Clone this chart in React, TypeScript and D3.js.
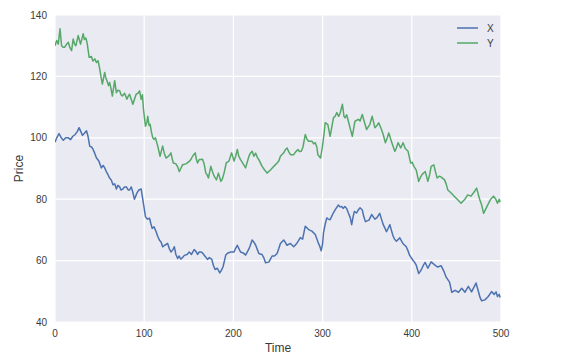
import { useMemo } from "react";
import * as d3 from "d3";

const W = 573;
const H = 354;
const MARGIN = { top: 15, right: 72, bottom: 32, left: 55 };

// X series (time, price)
const X_TIME = [
  0, 2, 4.5, 7, 9.3, 12, 14.9, 17.5, 20, 22.3, 25, 27, 29, 30.8, 33, 35.3, 37, 39, 41, 42.7, 44.5, 46.5, 49, 52, 54,
  55.7, 57.5, 59.4, 61, 63, 65, 67, 68.8, 70.5, 72.5, 74, 76, 78, 80, 82, 83.6, 85.5, 87, 89, 90.5, 91.8, 94, 96.6,
  98.5, 100, 101.4, 103.5, 106, 107.5, 108.9, 111, 113.4, 115, 117, 119, 120.7, 123, 126.3, 128, 130, 132, 133.8,
  135.5, 137.5, 139, 141, 143, 145, 148, 150.5, 153, 156, 158, 159.8, 161.7, 163.5, 165.4, 168, 171, 173, 175.8,
  177.5, 179.5, 182, 184.7, 186.5, 188.4, 190, 191.4, 194, 197, 200.7, 202.5, 204.4, 206, 208, 211, 213.7, 217.4,
  219, 221, 223, 225, 227, 228.5, 232, 234, 236, 239.7, 241.5, 243.4, 246, 249, 251, 252.7, 256.4, 258, 260, 263.9,
  267.6, 271, 273, 275, 277.6, 279, 280.6, 284.3, 288, 291.8, 295.4, 297, 298.4, 300, 301, 303, 304.7, 306.5, 308.4,
  310.3, 312, 314, 317.7, 319.5, 321.4, 323, 325, 327, 328.9, 331, 332.6, 334, 335.6, 338, 340, 342, 344.5, 346, 348,
  352, 355, 358.6, 361, 364, 366, 368, 370, 371.6, 373.5, 375.4, 377, 379, 380.7, 382.7, 386.5, 390, 393.8, 396,
  397.6, 401.3, 403, 405, 407.7, 409.5, 411.4, 413, 415, 418, 421.7, 424, 426, 429, 433, 436, 438.5, 442.3, 444.8,
  448.5, 452.3, 456, 459.6, 463.4, 467, 470, 472, 474.6, 476.5, 478.3, 482, 485.7, 489.4, 492.4, 494.5, 496, 498, 499,
];
const X_PRICE = [
  98.6, 100, 101.4, 100, 99.2, 100, 100, 99.4, 100.5, 101, 102, 103.3, 102, 100.8, 101.5, 102.3, 100.5, 97.2, 97,
  96.2, 95, 93.4, 92.5, 90.2, 91, 90.2, 89, 88, 87, 86.3, 84.7, 85, 83.3, 84.5, 84, 83, 83.3, 84, 84, 83, 83, 84, 82.5,
  80, 81, 82, 83, 83.3, 79.8, 77, 74.3, 73.5, 73.8, 72, 70.5, 71, 69.4, 68, 66.7, 66, 64.5, 65, 65.6, 64, 62.8, 63.5,
  64.5, 62, 60.7, 61.5, 60.5, 61, 61.7, 62, 62.8, 62, 63.6, 63, 62, 62.8, 62.8, 62.5, 61.5, 60.4, 61, 60.4, 58.5, 57.1,
  57.5, 56, 56.8, 58, 60, 61.8, 62.5, 62.8, 62.8, 64, 65, 64, 62.8, 62.5, 61.8, 63.8, 65, 66.7, 66, 65, 63.5, 62.3, 62,
  61, 59.3, 59.5, 60.5, 61.5, 61.5, 62.3, 64, 65.6, 66.7, 66, 65, 65.6, 64.5, 65.6, 66.5, 67.5, 67, 69, 71.2, 70.1,
  69.6, 68.5, 65.6, 64.5, 63.2, 65.5, 69, 72, 73.9, 73.5, 73.3, 74.5, 75.5, 76.5, 78.1, 77.5, 77.6, 77, 77.6, 77, 75.5,
  74, 71.7, 74, 76, 75.5, 76.5, 77.2, 76.5, 74.5, 72.7, 73.2, 75, 73.5, 74, 75.4, 73.5, 71.7, 70.5, 69.4, 70.5, 71.7,
  70, 68, 67, 66.3, 67.4, 65.6, 64.5, 63, 61.7, 60.1, 59.5, 58.5, 55.8, 56.5, 57.5, 58.5, 59.4, 57.5, 59.6, 59, 58.5,
  57.9, 58.3, 56.5, 54.6, 53, 49.7, 50.3, 49.7, 51, 49.7, 51.6, 49.8, 51.5, 52.7, 50, 48, 46.9, 47.2, 48.3, 49.9, 49,
  49.8, 48.3, 49, 48,
];

// Y series (time, price)
const Y_TIME = [
  0, 1.9, 3.7, 5.6, 7.4, 9, 11, 13, 14.9, 16.5, 18.6, 20.4, 22, 23.4, 26, 28.6, 30, 31.6, 33, 34.6, 36, 38.3, 40.8,
  42.5, 44.6, 46.5, 48.3, 50.2, 51.5, 53.1, 55.7, 57, 58.3, 60, 61.3, 62.8, 64.3, 66.9, 68.8, 70.5, 72.5, 74, 75.5, 78,
  80.6, 82, 83.6, 85.5, 87.3, 89, 91, 93, 94.8, 96.6, 98, 99.2, 101.4, 103, 104, 105.5, 106.7, 108, 109.6, 111, 112.6,
  114, 115.2, 117.8, 119.5, 120.7, 122.5, 124.5, 127.4, 130, 131.5, 132.7, 135.6, 137.5, 139.4, 141, 143, 146.8,
  150.5, 152.5, 154.2, 157.2, 158.5, 159.8, 161.7, 163.5, 165.4, 167.2, 169.1, 170.5, 172, 174.7, 176.5, 178.4, 181,
  183.2, 185.9, 187.5, 189.5, 192, 195, 198, 200.7, 202.5, 204.4, 206, 208, 211, 213.7, 217.4, 219, 221, 223, 225,
  227, 228.5, 232.2, 235, 237.8, 239.5, 241.5, 245.3, 249, 251, 252.7, 256.4, 258, 260.2, 262, 263.9, 267.6, 270,
  272.4, 274, 276.1, 278, 280.6, 282.5, 284.3, 288, 290, 291.8, 293.5, 294.7, 297.7, 299.9, 301.5, 302.9, 305.8,
  308.4, 310, 312.2, 314, 315.9, 318, 319.6, 322.2, 324, 325.2, 327, 328.9, 331, 333.3, 336.3, 340, 342, 344.5, 347,
  349.3, 353, 355.6, 358.6, 361, 363, 366, 368, 370.4, 372.5, 374.2, 377.1, 380.9, 382.5, 384.6, 387.6, 390.2, 392.7,
  395.8, 398.7, 400.5, 402.4, 405, 407.7, 409.5, 411.4, 415.1, 418, 420, 421.7, 424.7, 426.5, 428.4, 431, 433, 436.7,
  438.5, 440.4, 444.1, 447.8, 451.5, 455.2, 459, 462.7, 466.4, 470.2, 472.7, 475.7, 478.3, 480.5, 484.2, 488, 491.6,
  494.2, 496, 498, 499,
];
const Y_PRICE = [
  130, 131.7, 130.5, 135.5, 130, 129.5, 129.5, 130.5, 131.1, 129.5, 128.4, 132.2, 130.5, 130, 133.3, 130.5, 132,
  133.9, 132, 132.5, 130.9, 126.2, 126.5, 125, 125.7, 124.5, 125.1, 122.4, 120, 117.5, 121.3, 119.5, 118.6, 117, 118,
  116, 113.6, 118.6, 114.7, 115.5, 115.3, 114, 113.6, 114.5, 112.6, 113.5, 114.2, 112.5, 110.9, 112.5, 114.2, 114.5,
  115.3, 112.5, 114, 109.3, 103.8, 105, 107, 104, 104.4, 102, 100, 99.5, 100, 98.5, 97.3, 94, 96, 97.3, 95, 93.4, 94,
  95.1, 93, 91.8, 91.5, 90.5, 89, 90, 91.2, 91.5, 92.3, 93, 94, 95.1, 93, 91.8, 92.9, 92.9, 93, 91.5, 88.5, 88, 86.9,
  90.7, 89, 87.5, 86.3, 88.5, 85.8, 86.5, 88.5, 91.8, 92.4, 95.1, 92.4, 94, 96.2, 94, 92.9, 91.5, 90.2, 94, 95, 95.6,
  94, 95, 93.5, 92.9, 90.7, 89.5, 88.5, 89, 89.5, 90.7, 91.8, 92.5, 94, 95.1, 96, 96.7, 95.5, 94.5, 94.5, 95.5, 96.2,
  95.5, 95.6, 97, 101.1, 99.5, 98.9, 98.9, 98, 98.4, 97, 94.5, 93.4, 97.3, 101, 104.9, 104.4, 100.5, 103, 106.6, 107,
  108.2, 107, 108, 110.9, 107, 106.5, 107.5, 105.4, 103, 100.5, 105.4, 106, 105.5, 107.6, 105, 102.7, 104.4, 107,
  103.3, 104, 104.9, 102.7, 101, 98.4, 100, 101.6, 98.9, 95.6, 96.5, 98.4, 96.7, 98.4, 96.5, 95.6, 91.8, 92, 90.7,
  89.5, 85.8, 87, 88, 89, 85.8, 88, 90.7, 91.2, 89, 86.9, 87.5, 87.2, 86.3, 85, 83, 82, 80.9, 79.8, 78.7, 79.8, 81.4,
  81, 82.5, 83.6, 80.3, 78.1, 75.4, 77.6, 79.8, 81, 80, 78.7, 80, 79,
];

const X_TICKS = [0, 100, 200, 300, 400, 500];
const Y_TICKS = [40, 60, 80, 100, 120, 140];

const SERIES = [
  { label: "X", color: "#4c72b0", time: X_TIME, price: X_PRICE },
  { label: "Y", color: "#55a868", time: Y_TIME, price: Y_PRICE },
];

const FONT = "'Liberation Sans', Arial, sans-serif";
const TEXT = "#3a3a3a";

export default function App() {
  const x = useMemo(
    () => d3.scaleLinear().domain([0, 500]).range([MARGIN.left, W - MARGIN.right]),
    [],
  );
  const y = useMemo(
    () => d3.scaleLinear().domain([40, 140]).range([H - MARGIN.bottom, MARGIN.top]),
    [],
  );

  const line = d3
    .line<[number, number]>()
    .x((d) => x(d[0]))
    .y((d) => y(d[1]));

  const x0 = MARGIN.left;
  const x1 = W - MARGIN.right;
  const y0 = H - MARGIN.bottom;
  const y1 = MARGIN.top;

  return (
    <svg
      width={W}
      height={H}
      style={{ position: "absolute", left: 0, top: 0, background: "#fff" }}
      fontFamily={FONT}
    >
      <rect x={x0} y={y1} width={x1 - x0} height={y0 - y1} fill="#eaeaf2" />

      {/* white grid */}
      {Y_TICKS.map((t) => (
        <line key={`gy${t}`} x1={x0} x2={x1} y1={y(t)} y2={y(t)} stroke="#fff" strokeWidth={1.2} />
      ))}
      {X_TICKS.map((t) => (
        <line key={`gx${t}`} x1={x(t)} x2={x(t)} y1={y0} y2={y1} stroke="#fff" strokeWidth={1.2} />
      ))}

      <defs>
        <clipPath id="plot-clip">
          <rect x={x0} y={y1} width={x1 - x0} height={y0 - y1} />
        </clipPath>
      </defs>

      <g clipPath="url(#plot-clip)">
        {SERIES.map((s) => (
          <path
            key={s.label}
            d={line(s.time.map((t, i) => [t, s.price[i]] as [number, number])) ?? ""}
            fill="none"
            stroke={s.color}
            strokeWidth={1.5}
            strokeLinejoin="round"
          />
        ))}
      </g>

      {/* tick labels */}
      {Y_TICKS.map((t) => (
        <text
          key={`ly${t}`}
          x={x0 - 8}
          y={y(t)}
          dy="0.35em"
          textAnchor="end"
          fontSize={10}
          fill={TEXT}
        >
          {t}
        </text>
      ))}
      {X_TICKS.map((t) => (
        <text key={`lx${t}`} x={x(t)} y={y0 + 15} textAnchor="middle" fontSize={10} fill={TEXT}>
          {t}
        </text>
      ))}

      <text x={(x0 + x1) / 2} y={H - 2} textAnchor="middle" fontSize={12} fill={TEXT}>
        Time
      </text>
      <text
        transform={`translate(${23},${(y0 + y1) / 2}) rotate(-90)`}
        textAnchor="middle"
        fontSize={12}
        fill={TEXT}
      >
        Price
      </text>

      {/* legend */}
      {SERIES.map((s, i) => (
        <g key={`lg${s.label}`} transform={`translate(457,${28 + i * 15})`}>
          <line x1={0} x2={21} y1={0} y2={0} stroke={s.color} strokeWidth={1.5} />
          <text x={30} y={0} dy="0.35em" fontSize={10} fill={TEXT}>
            {s.label}
          </text>
        </g>
      ))}
    </svg>
  );
}
